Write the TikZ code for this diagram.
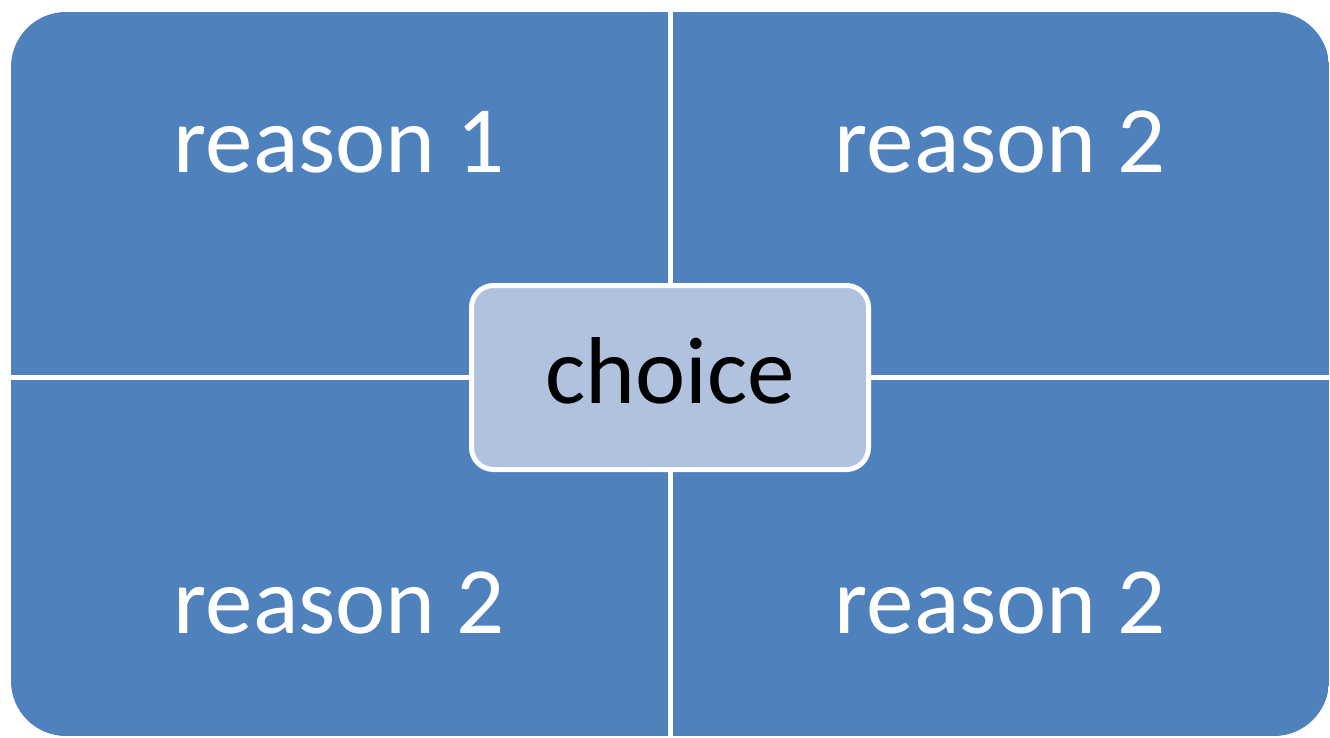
\documentclass[tikz,border=0pt]{standalone}
\usepackage{fontspec}
\setmainfont{Carlito}
\definecolor{quadblue}{HTML}{4F81BD}
\definecolor{centerblue}{HTML}{B0C2DE}
\begin{document}
\begin{tikzpicture}[x=1pt,y=-1pt,
  quad/.style={fill=quadblue},
  reasontext/.style={text=white,font=\fontsize{95}{110}\selectfont,anchor=base,inner sep=0pt},
  centerbox/.style={fill=centerblue,draw=white,line width=5pt,rounded corners=22pt},
  centertext/.style={text=black,font=\fontsize{95}{110}\selectfont,anchor=base,inner sep=0pt}]
  \useasboundingbox[fill=white] (0,0) rectangle (1330,738);
  % four quadrants, outer corners rounded
  \begin{scope}
    \clip[rounded corners=55pt] (11,12) rectangle (1329,736);
    \fill[quad] (11,12) rectangle (667.5,374.5);
    \fill[quad] (672.5,12) rectangle (1329,374.5);
    \fill[quad] (11,379.5) rectangle (667.5,736);
    \fill[quad] (672.5,379.5) rectangle (1329,736);
  \end{scope}
  \node[reasontext] (r1) at (339.5,173) {reason 1};
  \node[reasontext] (r2) at (1000.5,173) {reason 2};
  \node[reasontext] (r3) at (339.5,633) {reason 2};
  \node[reasontext] (r4) at (1000.5,633) {reason 2};
  % central box
  \draw[centerbox] (471.5,285.5) rectangle (868.5,469.5);
  \node[centertext] (choice) at (670,403) {choice};
\end{tikzpicture}
\end{document}
